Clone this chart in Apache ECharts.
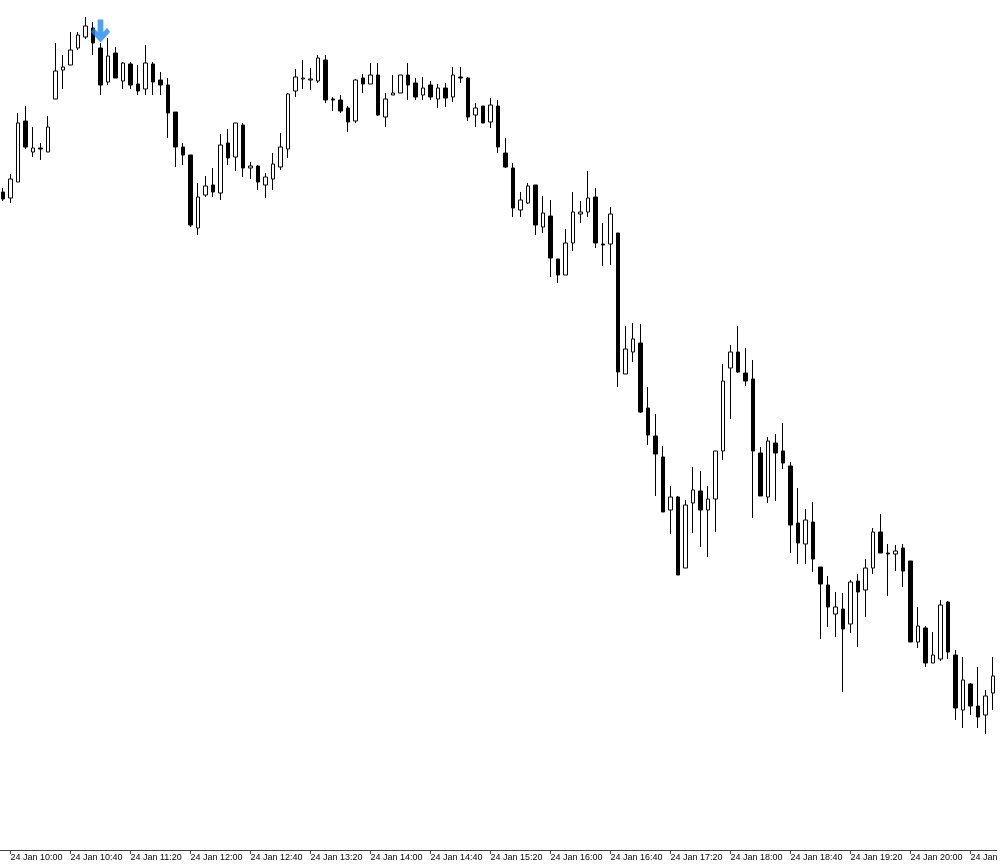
<!DOCTYPE html>
<html>
<head>
<meta charset="utf-8">
<script src="https://cdn.jsdelivr.net/npm/echarts@6/dist/echarts.min.js"></script>
<style>
html,body{margin:0;padding:0;background:#fff;}
#chart{width:1000px;height:867px;}
</style>
</head>
<body>
<div id="chart"></div>
<script>
// 5-minute bars, 24 Jan 09:55 .. 20:55
const times = [
"09:55",
"10:00","10:05","10:10","10:15","10:20","10:25","10:30","10:35","10:40","10:45","10:50","10:55",
"11:00","11:05","11:10","11:15","11:20","11:25","11:30","11:35","11:40","11:45","11:50","11:55",
"12:00","12:05","12:10","12:15","12:20","12:25","12:30","12:35","12:40","12:45","12:50","12:55",
"13:00","13:05","13:10","13:15","13:20","13:25","13:30","13:35","13:40","13:45","13:50","13:55",
"14:00","14:05","14:10","14:15","14:20","14:25","14:30","14:35","14:40","14:45","14:50","14:55",
"15:00","15:05","15:10","15:15","15:20","15:25","15:30","15:35","15:40","15:45","15:50","15:55",
"16:00","16:05","16:10","16:15","16:20","16:25","16:30","16:35","16:40","16:45","16:50","16:55",
"17:00","17:05","17:10","17:15","17:20","17:25","17:30","17:35","17:40","17:45","17:50","17:55",
"18:00","18:05","18:10","18:15","18:20","18:25","18:30","18:35","18:40","18:45","18:50","18:55",
"19:00","19:05","19:10","19:15","19:20","19:25","19:30","19:35","19:40","19:45","19:50","19:55",
"20:00","20:05","20:10","20:15","20:20","20:25","20:30","20:35","20:40","20:45","20:50","20:55"
];
const dayLabel = "24 Jan";

const opens = [
658,652,668,729,698,702,698,751,780,785,802,813,822,802,768,797,769,786,766,761,
786,770,765,738,703,695,622,655,665,657,707,693,725,682,684,665,671,683,701,759,
771,770,769,790,751,750,742,729,772,766,775,733,755,757,775,767,755,765,751,762,
753,773,772,735,744,728,744,697,682,640,647,665,623,634,591,575,607,636,638,653,
606,606,617,476,498,507,442,414,393,340,353,282,347,359,340,351,399,482,498,477,
471,397,353,407,399,384,327,306,328,283,265,236,241,226,269,260,282,318,297,296,
302,289,208,222,187,191,248,195,140,166,144,135,157
];
const closes = [
651,671,727,703,702,701,723,779,783,800,815,824,807,765,794,772,787,765,759,787,
768,765,737,703,695,625,653,664,658,705,692,727,682,684,668,673,686,703,756,773,
772,771,792,750,750,739,728,770,766,775,735,751,757,775,765,753,762,753,762,752,
775,772,733,742,727,745,703,683,642,650,664,625,637,592,575,607,638,638,652,607,
605,636,478,501,511,438,415,396,338,353,275,345,360,340,351,399,469,498,478,469,
399,354,409,397,387,325,307,330,291,266,243,243,221,268,258,282,318,297,296,299,
279,208,224,187,195,245,198,142,170,144,133,154,174
];
const lows = [
649,647,668,701,693,690,698,751,761,785,800,811,795,755,765,772,761,761,755,755,
755,755,712,683,685,623,615,653,653,650,685,679,673,671,660,652,660,680,692,753,
761,760,767,747,739,737,718,727,757,766,734,723,755,757,750,750,750,750,742,743,
748,767,729,723,727,722,697,682,633,633,646,615,617,573,567,575,599,627,633,602,
584,585,463,476,488,437,405,354,338,316,275,282,317,303,293,318,390,431,477,464,
332,354,347,349,381,297,286,286,278,211,223,213,158,217,203,233,276,297,254,279,
263,208,202,183,187,189,191,130,122,135,122,116,140
];
const highs = [
662,676,737,744,723,707,734,807,795,818,818,833,828,807,812,803,788,788,785,805,
788,778,772,738,707,695,667,674,682,716,721,727,727,688,685,677,697,717,757,781,
790,782,795,795,753,755,744,771,776,787,787,757,775,775,787,772,773,769,766,767,
783,783,773,747,744,752,750,712,687,658,667,665,654,650,591,621,658,649,679,662,
627,643,617,524,527,526,463,436,404,364,354,350,383,379,364,399,486,505,524,502,
490,403,413,416,427,388,362,341,348,283,274,258,257,270,276,291,322,336,306,305,
306,289,243,224,218,250,249,200,193,167,183,160,193
];
// sell-signal arrow above the bar at 11:00
const signalTime = "11:00";
const signalLevel = 819;

const candleData = opens.map((o, i) => [o, closes[i], lows[i], highs[i]]);

const chart = echarts.init(document.getElementById('chart'), null, {renderer: 'canvas'});
const labelEvery = (idx) => (idx - 1) % 8 === 0;

chart.setOption({
  animation: false,
  backgroundColor: '#ffffff',
  grid: {left: -0.75, right: 3.25, top: 0, bottom: 17, containLabel: false, outerBoundsMode: 'none'},
  xAxis: {
    type: 'category',
    data: times,
    boundaryGap: true,
    axisLine: {show: true, lineStyle: {color: '#404040', width: 1}},
    axisTick: {show: true, alignWithLabel: true, interval: labelEvery, length: 4, lineStyle: {color: '#404040'}},
    axisLabel: {
      show: true, interval: labelEvery, align: 'left', margin: 3, hideOverlap: false,
      fontFamily: 'Liberation Sans, Arial, sans-serif', fontSize: 9, color: '#000',
      formatter: (v) => dayLabel + ' ' + v
    },
    splitLine: {show: false}
  },
  yAxis: {type: 'value', min: 0, max: 850, show: false, splitLine: {show: false}},
  series: [
    {
      type: 'candlestick',
      data: candleData,
      barWidth: 4,
      itemStyle: {
        color: '#ffffff', color0: '#000000',
        borderColor: '#000000', borderColor0: '#000000', borderWidth: 1
      }
    },
    {
      type: 'scatter',
      data: [[signalTime, signalLevel]],
      symbol: 'path://M7,0 L13,0 L13,12 L17,8 L20,12 L10,22 L0,12 L3,8 L7,12 Z',
      symbolSize: [19, 23],
      itemStyle: {color: '#1E88F5'},
      z: 5
    }
  ]
});
</script>
</body>
</html>
